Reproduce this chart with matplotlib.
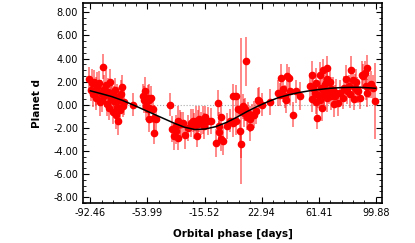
import matplotlib
matplotlib.use("Agg")
import matplotlib.pyplot as plt
from matplotlib.ticker import FixedLocator, AutoMinorLocator, FormatStrFormatter

# phase-folded measurements (days, value, error)
phase = [-93.6, -92.0, -91.2, -90.5, -89.8, -89.0, -88.4, -87.7, -86.9, -86.3,
         -85.6, -84.9, -83.7, -83.0, -82.4, -81.8, -81.0, -80.3, -79.7, -79.1,
         -78.5, -77.9, -77.2, -76.6, -76.0, -75.4, -74.8, -74.2, -73.6, -73.0,
         -72.4, -71.8, -71.2, -70.6, -69.9, -63.9,
         -57.2, -56.0, -55.0, -53.8, -52.7, -51.6, -55.0, -53.8, -52.7, -50.4,
         -49.3, -48.2, -49.3, -55.6, -52.7, -38.8,
         -37.4, -35.8, -34.7, -34.7, -33.6, -33.6, -32.2, -31.4, -30.2, -28.4,
         -26.8, -24.6, -23.5, -22.5, -21.5, -20.8, -20.1, -19.1, -18.1, -16.7,
         -16.0, -15.0, -13.4, -11.1,
         -7.8, -6.6, -5.9, -5.5, -4.4, -4.4, -3.3, -0.55, 1.5, 3.5,
         3.7, 5.9, 5.8, 6.9, 8.7, 9.1, 9.2, 10.2, 10.9, 11.6,
         12.7, 12.9, 13.6, 14.8, 15.0, 16.3, 17.7, 19.0, 20.4, 21.2,
         23.1, 28.5,
         34.0, 35.2, 36.3, 37.2, 38.6, 39.2, 40.1, 41.5, 42.3, 43.8, 46.0, 48.7,
         55.4, 56.6, 57.7, 58.8, 59.9, 60.6, 61.0, 62.2, 62.2, 63.3,
         63.7, 64.4, 65.1, 66.0, 66.7, 67.3, 68.2, 68.9, 70.0, 71.1,
         72.3, 73.4, 74.5, 78.6, 79.5, 80.8, 81.7, 83.5, 84.6, 85.3,
         85.8, 86.9, 88.0, 90.3, 91.4, 92.5, 93.2, 94.3, 95.4, 96.5,
         97.7, 99.2, 57.0, 59.5, 64.8, 67.0, 69.5, 71.5, 76.0, 77.5,
         82.5, 87.5, 89.0, 94.0]
value = [2.2, 1.3, 1.9, 0.9, 2.0, 1.2, 0.6, 1.5, 1.9, 0.2,
         1.0, 0.4, 3.3, 1.4, 0.8, 1.7, 0.1, 1.1, -0.3, 2.0,
         0.5, 1.0, -0.6, 0.3, 1.3, -0.9, 0.7, -0.2, -1.4, 0.4,
         -0.5, 0.9, 1.5, -0.1, 0.2, 0.0,
         0.73, 0.45, 0.3, 0.6, 0.45, 0.6, -0.13, -0.4, -0.28, -0.4,
         -1.14, -1.28, -2.43, 1.16, -1.28, 0.0,
         -2.1, -2.7, -1.85, -2.3, -1.4, -2.9, -1.7, -1.7, -1.6, -2.6,
         -2.0, -1.6, -1.4, -1.85, -1.4, -2.7, -1.7, -1.25, -1.6, -1.3,
         -1.85, -1.1, -1.4, -1.4,
         -3.3, 0.15, -2.4, -1.85, -1.1, -3.0, -3.15, -1.85, -1.4, -1.6,
         0.73, 0.73, -1.4, -0.4, -2.3, -3.4, -0.55, -0.13, -0.7, -0.4,
         3.75, -1.1, -0.75, -1.95, -1.25, -0.9, -0.85, -0.55, 0.45, 0.36,
         0.0, 0.24,
         1.0, 0.88, 2.3, 1.35, 0.73, 0.45, 2.45, 2.3, 1.16, -0.85, 1.16, 0.73,
         1.65, 2.6, 1.45, 1.0, 1.9, -1.13, 0.88, 2.6, 0.45, 1.45,
         -0.28, 3.0, 0.88, 1.75, 3.2, 0.6, 1.16, 2.0, 0.73, 1.3,
         0.73, 1.0, 0.15, 1.45, 2.2, 1.16, 1.6, 3.0, 2.1, 0.53,
         1.45, 2.0, 1.16, 2.6, 2.45, 2.75, 1.6, 3.2, 1.6, 1.75,
         1.45, 0.3, 0.5, 0.2, 1.2, 2.2, 1.4, 0.1, 1.0, 0.6,
         0.9, 1.3, 0.6, 1.0]
error = [1.1, 1.0, 1.2, 1.1, 1.0, 1.2, 1.1, 1.3, 1.0, 1.2,
         1.1, 1.0, 1.1, 1.2, 1.0, 1.3, 1.1, 1.2, 1.0, 1.1,
         1.2, 1.0, 1.1, 1.3, 1.0, 1.2, 1.1, 1.0, 1.2, 1.1,
         1.0, 1.2, 1.1, 1.0, 1.1, 1.0,
         1.1, 1.2, 1.0, 1.1, 1.3, 1.0, 1.2, 1.1, 1.0, 1.2,
         1.1, 1.0, 1.0, 1.2, 1.1, 1.0,
         1.1, 1.2, 1.0, 1.1, 1.3, 1.0, 1.2, 1.1, 1.0, 1.2,
         1.1, 1.2, 1.0, 1.1, 1.3, 1.0, 1.2, 1.1, 1.0, 1.2,
         1.1, 1.0, 1.2, 1.1,
         1.2, 1.1, 1.0, 1.2, 1.1, 1.0, 1.2, 1.1, 1.0, 1.2,
         1.1, 1.0, 1.2, 1.1, 1.0, 1.2, 6.3, 1.1, 1.2, 1.0,
         2.1, 1.1, 1.0, 1.2, 1.1, 1.0, 1.2, 1.1, 1.0, 1.2,
         1.0, 1.1,
         1.1, 1.0, 1.2, 1.1, 1.0, 1.2, 1.1, 1.0, 1.2, 1.1, 1.0, 1.2,
         1.1, 1.2, 1.0, 1.1, 1.3, 1.0, 1.2, 1.1, 1.0, 1.2,
         1.1, 1.0, 1.2, 1.1, 1.0, 1.2, 1.1, 1.0, 1.2, 1.1,
         1.0, 1.2, 1.1, 1.0, 1.2, 1.1, 1.0, 1.2, 1.1, 1.0,
         1.2, 1.1, 1.0, 1.2, 1.1, 1.0, 1.2, 1.1, 1.0, 1.2,
         1.1, 3.3, 1.1, 1.0, 1.2, 1.1, 1.0, 1.2, 1.1, 1.0,
         1.2, 1.1, 1.0, 1.2]

# best-fit model curve
model_phase = [-92.46, -85, -78, -71, -64, -57, -50, -43, -36, -29, -22, -15,
               -8, -1, 6, 13, 20, 27, 34, 41, 48, 55, 62, 69, 76, 83, 90, 97, 99.88]
model_value = [1.2, 0.95, 0.7, 0.38, 0.0, -0.4, -0.8, -1.2, -1.6, -1.95, -2.15, -2.1,
               -1.9, -1.55, -1.1, -0.6, -0.15, 0.25, 0.6, 0.85, 1.05, 1.2, 1.32,
               1.42, 1.48, 1.5, 1.5, 1.45, 1.42]

xticks = [-92.46, -53.99, -15.52, 22.94, 61.41, 99.88]
yticks = [-8, -6, -4, -2, 0, 2, 4, 6, 8]

fig = plt.figure(figsize=(4.15, 2.43), dpi=100)
ax = fig.add_axes([0.2, 0.165, 0.7205, 0.8215])

ax.axhline(0, color='#a8a8a8', lw=0.8, ls=':', zorder=1)
ax.errorbar(phase, value, yerr=error, fmt='o', color='#ff0000', ms=4.5,
            ecolor=(1, 0, 0, 0.5), elinewidth=1.3, capsize=0, zorder=2)
ax.plot(model_phase, model_value, color='black', lw=1.1, zorder=3)

ax.set_xlim(-97.45, 104.1)
ax.set_ylim(-8.5, 8.78)
ax.xaxis.set_major_locator(FixedLocator(xticks))
ax.yaxis.set_major_locator(FixedLocator(yticks))
ax.xaxis.set_major_formatter(FormatStrFormatter('%.2f'))
ax.yaxis.set_major_formatter(FormatStrFormatter('%.2f'))
ax.xaxis.set_minor_locator(AutoMinorLocator(5))
ax.yaxis.set_minor_locator(AutoMinorLocator(4))
ax.tick_params(which='both', direction='in', top=True, right=True, labelsize=7)
ax.tick_params(which='major', length=4, width=0.8)
ax.tick_params(which='minor', length=2, width=0.6)
for s in ax.spines.values():
    s.set_linewidth(1.2)

ax.set_xlabel('Orbital phase [days]', fontsize=7.5, fontweight='bold', labelpad=8)
ax.set_ylabel('Planet d', fontsize=7.5, fontweight='bold', labelpad=8)

fig.savefig('out.png', dpi=100)
